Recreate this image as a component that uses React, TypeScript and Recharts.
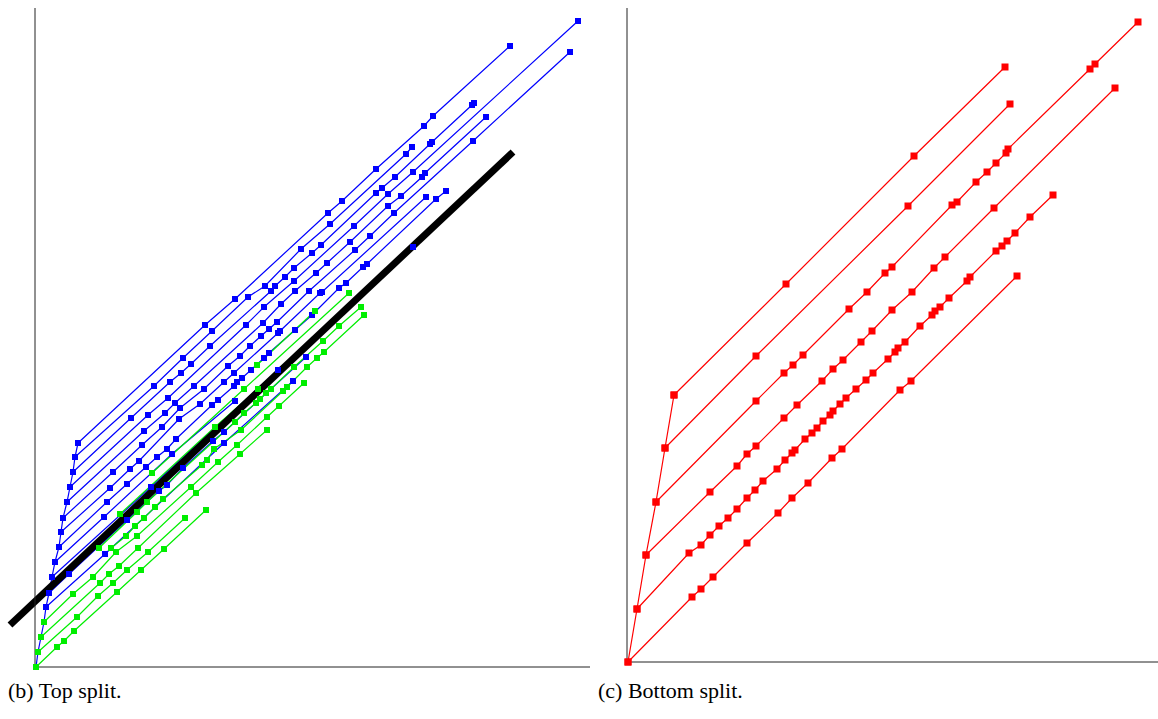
import React from 'react';
import { ComposedChart, Line, XAxis, YAxis, ReferenceLine } from 'recharts';

type Pt = [number, number];

// ---- (b) Top split: spine and blue lines ----
const blueSpine: Pt[] = [
  [1, 0], [3, 15], [6, 30], [9, 45], [11, 60], [14, 74], [17, 90], [20, 105],
  [24, 120], [26, 135], [28, 149], [32, 165], [35, 180], [38, 195], [40, 210], [43, 224],
];
const blue1: Pt[] = [[43, 224], [170, 342], [200, 368], [293, 454], [307, 466], [341, 498], [389, 541], [398, 551], [475, 621]];
const blue2: Pt[] = [[40, 210], [119, 281], [148, 309], [177, 336], [213, 370], [230, 381], [266, 418], [295, 443], [371, 513], [377, 520]];
const blue3: Pt[] = [[38, 195], [96, 249], [135, 285], [146, 294], [156, 303], [175, 321], [236, 376], [240, 381], [250, 390], [259, 399], [277, 414], [286, 422], [341, 474], [347, 479], [360, 490], [395, 523], [397, 525], [437, 562], [439, 564]];
const blue4: Pt[] = [[35, 180], [113, 252], [133, 269], [211, 342], [229, 360], [259, 386], [319, 441], [353, 473], [378, 495], [543, 646]];
const blue5: Pt[] = [[32, 165], [109, 236], [130, 254], [140, 264], [159, 281], [228, 344], [246, 363], [260, 376], [281, 394], [292, 404], [315, 425], [353, 461], [366, 471], [387, 490], [390, 494], [451, 550]];
const blue6: Pt[] = [[28, 149], [78, 195], [107, 222], [127, 240], [145, 259], [169, 278], [193, 301], [205, 311], [215, 321], [226, 331], [234, 338], [242, 345], [274, 376], [320, 417], [335, 431], [359, 454], [438, 526], [535, 615]];
const blue7: Pt[] = [[26, 135], [75, 179], [95, 198], [104, 206], [144, 248], [165, 263], [189, 285], [199, 294], [243, 334], [245, 336], [285, 374], [287, 375], [391, 470]];
const blue8: Pt[] = [[24, 120], [72, 165], [92, 183], [111, 200], [122, 210], [132, 218], [141, 228], [177, 262], [183, 267], [199, 281], [202, 285], [207, 289], [216, 297], [229, 309], [234, 314], [260, 337], [277, 352], [304, 379], [311, 384], [328, 400], [332, 403], [401, 468], [411, 476]];
const blue9: Pt[] = [[20, 105], [69, 150], [137, 213], [200, 266]];
const blue10: Pt[] = [[17, 90], [116, 180], [243, 297], [378, 420]];
const blue11: Pt[] = [[14, 74], [34, 93], [92, 147], [124, 176], [132, 182], [148, 199], [178, 226], [189, 235], [271, 310]];
const blue12: Pt[] = [[11, 60], [70, 113], [189, 224], [258, 286]];

// green lines
const green1: Pt[] = [[222, 302], [280, 356]];
const green2: Pt[] = [[117, 194], [209, 278], [314, 374]];
const green3: Pt[] = [[85, 153], [180, 240], [223, 278]];
const green4: Pt[] = [[64, 119], [102, 155], [112, 165], [200, 245], [209, 254], [221, 264], [225, 268], [231, 274], [236, 278], [259, 300], [288, 326], [304, 341], [326, 360]];
const green5: Pt[] = [[76, 119], [91, 131], [100, 141], [109, 149], [120, 160], [128, 168], [167, 202], [172, 207], [179, 218], [206, 237], [248, 276], [252, 280], [272, 300], [282, 309], [289, 315], [329, 352]];
const green6: Pt[] = [[9, 45], [38, 73], [58, 90], [81, 115], [102, 131], [156, 180], [183, 205], [202, 222], [232, 250], [244, 261], [269, 284]];
const green7: Pt[] = [[6, 30], [65, 84], [74, 93], [84, 101], [103, 119], [161, 174], [205, 213], [232, 237]];
const green8: Pt[] = [[3, 15], [42, 50], [63, 71], [78, 84], [92, 97], [113, 115], [150, 149]];
const green9: Pt[] = [[1, 0], [22, 20], [29, 26], [39, 36], [82, 75], [106, 97], [129, 118], [171, 157]];

// thick split line
const splitLine: Pt[] = [[-25, 42], [478, 515]];

// ---- (c) Bottom split: red ----
const redSpine: Pt[] = [[1, 0], [10, 53], [19, 107], [29, 160], [38, 214], [47, 267]];
const red1: Pt[] = [[47, 267], [159, 378], [287, 506], [378, 595]];
const red2: Pt[] = [[38, 214], [129, 306], [281, 456], [383, 558]];
const red3: Pt[] = [[29, 160], [129, 261], [157, 289], [166, 297], [176, 307], [222, 353], [240, 370], [258, 389], [265, 395], [325, 457], [330, 460], [349, 480], [360, 490], [369, 499], [379, 509], [381, 513], [463, 593], [468, 598], [511, 640]];
const red4: Pt[] = [[19, 107], [83, 170], [110, 196], [120, 208], [129, 216], [157, 244], [170, 257], [195, 281], [206, 293], [216, 302], [234, 320], [245, 331], [265, 352], [285, 370], [307, 394], [318, 405], [367, 454], [488, 574]];
const red5: Pt[] = [[10, 53], [62, 109], [74, 117], [83, 127], [92, 136], [101, 144], [110, 153], [120, 164], [128, 172], [136, 181], [150, 193], [158, 202], [165, 209], [168, 212], [178, 223], [185, 229], [190, 234], [196, 241], [203, 247], [206, 251], [213, 258], [219, 264], [229, 273], [239, 282], [246, 289], [261, 303], [268, 310], [271, 314], [278, 320], [293, 336], [305, 347], [308, 351], [313, 355], [322, 364], [340, 381], [343, 385], [369, 411], [375, 416], [380, 421], [388, 429], [403, 445], [426, 467]];
const red6: Pt[] = [[1, 0], [65, 65], [74, 73], [86, 85], [120, 119], [151, 149], [165, 164], [181, 179], [205, 204], [215, 213], [273, 272], [284, 281], [390, 386]];

const BLUE = '#0000ff';
const GREEN = '#00ee00';
const RED = '#ff0000';

const toPts = (a: Pt[]) => a.map(([x, y]) => ({ x, y }));

const square = (color: string, size: number) => (props: any) => {
  const { cx, cy, index } = props;
  if (cx == null || cy == null) return <g key={index} />;
  return <rect key={index} x={cx - size / 2} y={cy - size / 2} width={size} height={size} fill={color} />;
};

const series = (lines: Pt[][], color: string, prefix: string, size = 6) =>
  lines.map((l, i) => (
    <Line
      key={prefix + i}
      data={toPts(l)}
      dataKey="y"
      type="linear"
      stroke={color}
      strokeWidth={1.2}
      dot={square(color, size)}
      activeDot={false}
      legendType="none"
      isAnimationActive={false}
    />
  ));

const caption: React.CSSProperties = {
  position: 'absolute',
  top: 678,
  fontFamily: '"Liberation Serif", "DejaVu Serif", serif',
  fontSize: 22,
  color: '#000',
  whiteSpace: 'nowrap',
};

export default function App() {
  return (
    <div style={{ position: 'absolute', left: 0, top: 0, width: 1158, height: 719, background: '#fff', overflow: 'hidden' }}>
      <div style={{ position: 'absolute', left: 0, top: 0 }}>
        <ComposedChart width={600} height={680} margin={{ top: 8, right: 10, bottom: 12, left: 34 }}>
          <XAxis type="number" dataKey="x" domain={[0, 555]} tick={false} tickLine={false} height={1} axisLine={{ stroke: '#222' }} allowDuplicatedCategory={false} />
          <YAxis type="number" domain={[0, 659]} tick={false} tickLine={false} width={1} axisLine={{ stroke: '#222' }} />
          {series([blueSpine], BLUE, 'bs')}
          {series([blue1, blue2, blue3, blue4, blue5, blue6, blue7, blue8, blue9, blue10, blue11, blue12], BLUE, 'b')}
          {series([green1, green2, green3, green4, green5, green6, green7, green8, green9], GREEN, 'g')}
          <ReferenceLine
            segment={[{ x: splitLine[0][0], y: splitLine[0][1] }, { x: splitLine[1][0], y: splitLine[1][1] }]}
            stroke="#000"
            strokeWidth={7}
            ifOverflow="visible"
          />
        </ComposedChart>
      </div>
      <div style={{ position: 'absolute', left: 590, top: 0 }}>
        <ComposedChart width={568} height={680} margin={{ top: 8, right: 0, bottom: 17, left: 36 }}>
          <XAxis type="number" dataKey="x" domain={[0, 531]} tick={false} tickLine={false} height={1} axisLine={{ stroke: '#222' }} allowDuplicatedCategory={false} />
          <YAxis type="number" domain={[0, 654]} tick={false} tickLine={false} width={1} axisLine={{ stroke: '#222' }} />
          {series([redSpine, red1, red2, red3, red4, red5, red6], RED, 'r', 7)}
        </ComposedChart>
      </div>
      <div style={{ ...caption, left: 8 }}>(b) Top split.</div>
      <div style={{ ...caption, left: 598 }}>(c) Bottom split.</div>
    </div>
  );
}
